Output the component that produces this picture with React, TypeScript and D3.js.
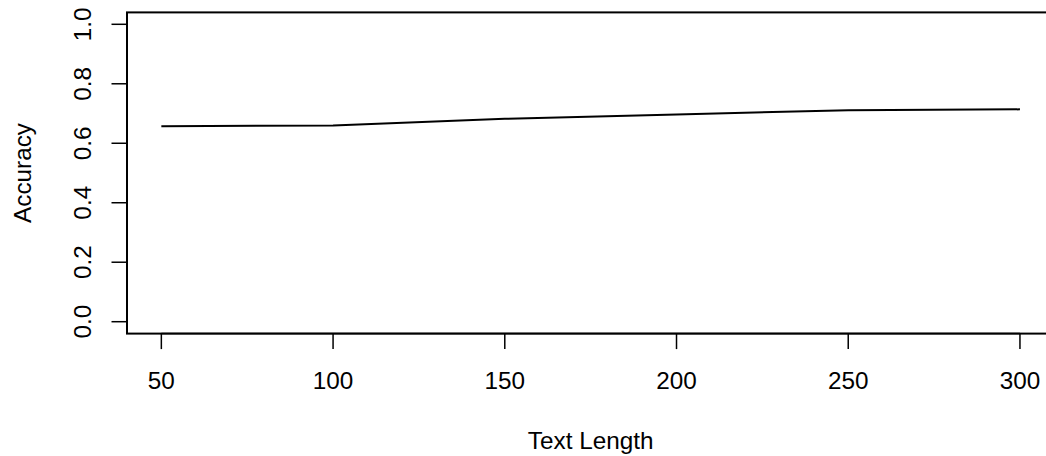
import React from "react";
import * as d3 from "d3";

const textLengths = [50, 100, 150, 200, 250, 300];
const accuracy = [0.657, 0.66, 0.682, 0.697, 0.711, 0.714];
const xTicks = [50, 100, 150, 200, 250, 300];
const yTicks = [0, 0.2, 0.4, 0.6, 0.8, 1.0];
const xTitle = "Text Length";
const yTitle = "Accuracy";

const W = 1046;
const H = 456;
const FONT = "'Liberation Sans', Arial, Helvetica, sans-serif";

export default function App() {
  // R-style 4% domain extension
  const x = d3.scaleLinear().domain([40, 310]).range([127, 1054.3]);
  const y = d3.scaleLinear().domain([-0.04, 1.04]).range([333.6, 12.4]);
  const line = d3
    .line<number>()
    .x((_, i) => x(textLengths[i]))
    .y((d) => y(d));
  const [x0, x1] = x.range();
  const [yb, yt] = y.range();
  return (
    <svg
      width={W}
      height={H}
      style={{ position: "absolute", left: 0, top: 0, background: "#fff" }}
      fontFamily={FONT}
    >
      <rect x={0} y={0} width={W} height={H} fill="#fff" />
      {/* box */}
      <rect x={x0} y={yt} width={x1 - x0} height={yb - yt} fill="none" stroke="#000" strokeWidth={2} />
      {/* line */}
      <path d={line(accuracy) || ""} fill="none" stroke="#000" strokeWidth={2} />
      {/* x axis */}
      <line x1={x(xTicks[0])} x2={x(xTicks[xTicks.length - 1])} y1={yb} y2={yb} stroke="#000" strokeWidth={1.5} />
      {xTicks.map((t) => (
        <g key={"xt" + t}>
          <line x1={x(t)} x2={x(t)} y1={yb} y2={yb + 15.5} stroke="#000" strokeWidth={1.5} />
          <text x={x(t)} y={389.3} textAnchor="middle" fontSize={24.3} fill="#000">
            {String(t)}
          </text>
        </g>
      ))}
      {/* y axis */}
      <line x1={x0} x2={x0} y1={y(yTicks[0])} y2={y(yTicks[yTicks.length - 1])} stroke="#000" strokeWidth={1.5} />
      {yTicks.map((t) => (
        <g key={"yt" + t}>
          <line x1={x0 - 15.5} x2={x0} y1={y(t)} y2={y(t)} stroke="#000" strokeWidth={1.5} />
          <text
            transform={`translate(90.7,${y(t)}) rotate(-90)`}
            textAnchor="middle"
            fontSize={24.3}
            fill="#000"
          >
            {t.toFixed(1)}
          </text>
        </g>
      ))}
      {/* titles */}
      <text x={(x0 + x1) / 2} y={449} textAnchor="middle" fontSize={24.3} fill="#000">
        {xTitle}
      </text>
      <text
        transform={`translate(30.6,${(yt + yb) / 2}) rotate(-90)`}
        textAnchor="middle"
        fontSize={24.3}
        fill="#000"
      >
        {yTitle}
      </text>
    </svg>
  );
}
